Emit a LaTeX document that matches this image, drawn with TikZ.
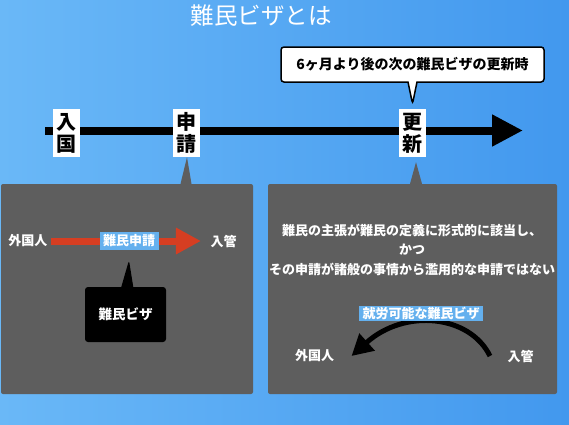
\documentclass[tikz,border=0pt]{standalone}
\usepackage{fontspec}
\setmainfont{Noto Sans CJK JP}
\usetikzlibrary{positioning, arrows.meta, shapes.callouts}

\definecolor{bgleft}{RGB}{106,184,247}
\definecolor{bgright}{RGB}{66,152,238}
\definecolor{panelgray}{RGB}{94,94,94}
\definecolor{tagblue}{RGB}{100,176,238}
\definecolor{arrowred}{RGB}{214,62,34}

\begin{document}
\begin{tikzpicture}[x=1pt, y=-1pt,
	stamp/.style={fill=white, text=black, font=\bfseries\fontsize{20}{22}\selectfont, align=center, inner sep=2pt, minimum width=27pt, minimum height=48pt},
	bubble/.style={rectangle callout, draw=black, line width=1.5pt, fill=white, rounded corners=3pt, callout pointer width=9pt, minimum width=263pt, minimum height=35pt, font=\bfseries\fontsize{14}{16}\selectfont},
	panel/.style={fill=panelgray, rounded corners=2pt, minimum width=#1, minimum height=210pt},
	paneltext/.style={text=white, font=\bfseries\fontsize{13}{15}\selectfont},
	tag/.style={fill=tagblue, text=white, font=\bfseries\fontsize{13}{15}\selectfont, inner xsep=3.5pt, inner ysep=2.5pt},
	darkbubble/.style={rectangle callout, fill=black, text=white, rounded corners=3pt, callout pointer width=12pt, minimum width=81pt, minimum height=55pt, font=\bfseries\fontsize{13.5}{15}\selectfont}
]
	\useasboundingbox (0,0) rectangle (569,424);
	\shade[left color=bgleft, right color=bgright] (0,0) rectangle (569,424);

	\node[text=white, font=\fontsize{23.5}{26}\selectfont] (title) at (261,16) {難民ビザとは};

	% timeline
	\coordinate (tlstart) at (45,130.5);
	\coordinate (tlend) at (523,130.5);
	\draw[line width=8pt, -{Triangle[length=31pt, width=30pt]}] (tlstart) -- (tlend);

	\node[stamp] (nyukoku) at (66.5,133) {入\\国};
	\node[stamp] (shinsei) at (186,133) {申\\請};
	\node[stamp] (koshin) at (412.5,133) {更\\新};

	\node[bubble, callout absolute pointer={([yshift=5pt]koshin.north)}] (jiki) at (412.5,64.5) {6ヶ月より後の次の難民ビザの更新時};

	\node[panel=252pt] (lpanel) at (127,289) {};
	\node[panel=289pt] (rpanel) at (412.5,289) {};
	\fill[panelgray] ([xshift=-5.5pt]shinsei.south |- lpanel.north) -- ([xshift=1pt]shinsei.south)
		-- ([xshift=5.5pt]shinsei.south |- lpanel.north) -- cycle;
	\fill[panelgray] ([xshift=-2.5pt]koshin.south |- rpanel.north) -- ([xshift=3.5pt,yshift=-5pt]koshin.south)
		-- ([xshift=9.5pt]koshin.south |- rpanel.north) -- cycle;

	% left panel
	\node[paneltext] (gaikoku1) at (28,241) {外国人};
	\node[paneltext] (nyukan1) at (223.5,241) {入管};
	\draw[arrowred, line width=7pt, -{Triangle[length=25pt, width=25pt]}, shorten >=6pt]
		(gaikoku1.east) -- node[tag] (shinseitag) {難民申請} (nyukan1.west);
	\node[darkbubble, callout absolute pointer={([yshift=-7pt]shinseitag.south)}] (nanminvisa) at (125.5,314.5) {難民ビザ};

	% right panel
	\node[paneltext, align=center, font=\bfseries\fontsize{13}{19.5}\selectfont] (jouken) at (412,249.5)
		{難民の主張が難民の定義に形式的に該当し、\\かつ\\その申請が諸般の事情から濫用的な申請ではない};
	\node[paneltext] (gaikoku2) at (314.5,356) {外国人};
	\node[paneltext] (nyukan2) at (520.5,356) {入管};
	\draw[line width=5pt, -{Triangle[length=21pt, width=22pt]}]
		([xshift=-14pt]nyukan2.west) .. controls (470,315) and (405,308) .. ([xshift=14pt]gaikoku2.east);
	\node[tag, inner ysep=1pt] (shurotag) at (421,313.5) {就労可能な難民ビザ};
\end{tikzpicture}
\end{document}
